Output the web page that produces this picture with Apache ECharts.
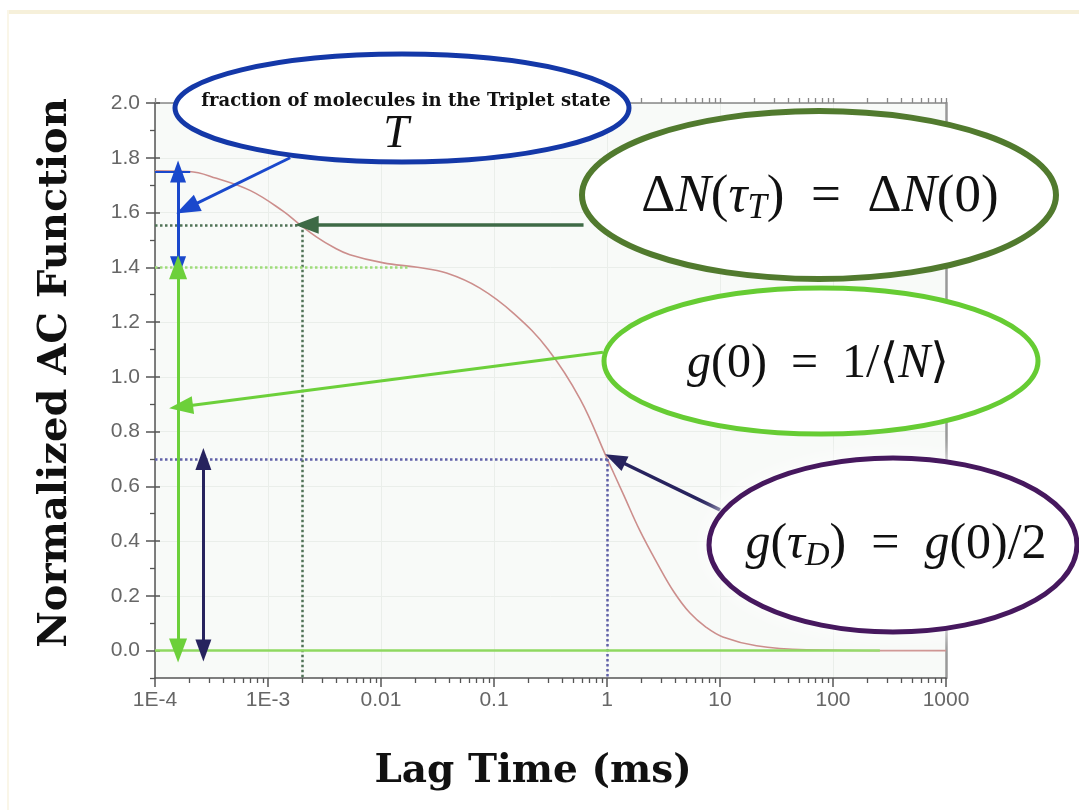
<!DOCTYPE html>
<html>
<head>
<meta charset="utf-8">
<script src="https://cdn.jsdelivr.net/npm/echarts@6/dist/echarts.min.js"></script>
<style>
html,body{margin:0;padding:0;background:#ffffff;}
#chart{width:1079px;height:810px;}
</style>
</head>
<body>
<div id="chart"></div>
<script>
// ---- data ----
const tau = [1e-4, 2e-4, 3.5e-4, 7e-4, 1.35e-3, 1.9e-3, 2.7e-3, 3.8e-3, 5.3e-3, 1.05e-2, 2.1e-2, 3.8e-2, 7.5e-2, 0.15, 0.3, 0.58, 1.0, 1.4, 1.95, 2.8, 3.9, 5.4, 7.5, 10.6, 21, 58, 260, 1000];
const gNorm = [1.752, 1.75, 1.725, 1.68, 1.606, 1.557, 1.510, 1.473, 1.446, 1.416, 1.400, 1.379, 1.324, 1.231, 1.101, 0.918, 0.702, 0.570, 0.439, 0.317, 0.215, 0.138, 0.086, 0.050, 0.018, 0.003, 0, 0];
const xTickLabels = ['1E-4', '1E-3', '0.01', '0.1', '1', '10', '100', '1000'];
const yTickValues = [0.0, 0.2, 0.4, 0.6, 0.8, 1.0, 1.2, 1.4, 1.6, 1.8, 2.0];
const yMinorValues = [-0.1, 0.1, 0.3, 0.5, 0.7, 0.9, 1.1, 1.3, 1.5, 1.7, 1.9];
const xDecades = [1e-4, 1e-3, 1e-2, 1e-1, 1, 10, 100, 1000];
const xMinorValues = [];
for (let d = 0; d < xDecades.length - 1; d++) {
  for (let m = 2; m <= 9; m++) xMinorValues.push(+(xDecades[d] * m).toPrecision(6));
}
// annotated levels
const plateauTop = 1.75;      // g(0) incl. triplet
const plateauDiff = 1.40;     // g(0) = 1/<N>
const tauT = 2.0e-3, gTauT = 1.555;
const tauD = 1.0,   gTauD = 0.70;
const baseEnd = 260;          // end of green zero line

const chart = echarts.init(document.getElementById('chart'), null, {renderer: 'canvas'});

const serifM = "'Liberation Serif','DejaVu Serif',serif";
const tickFont = "'Liberation Sans','Arial',sans-serif";

function pairs(xs, ys){ return xs.map((x,i)=>[x, ys[i]]); }

function seg(a, b, color, width, type, s0, s1, size0, size1){
  return [
    {coord: a, symbol: s0 || 'none', symbolSize: size0 || 10, lineStyle: {color, width, type: type || 'solid'}},
    {coord: b, symbol: s1 || 'none', symbolSize: size1 || 10, lineStyle: {color, width, type: type || 'solid'}}
  ];
}

const cBlue = '#1a48cc', cLG = '#6cd03a', cDG = '#3e6a46', cNavy = '#27235e';
const cLGdot = '#9edc7a', cDGdot = '#4f7256', cNavyDot = '#6060a8';

const guideLines = [
  seg([1e-4, plateauTop], [2.05e-4, plateauTop], cBlue, 2),
  seg([1e-4, gTauT], [tauT, gTauT], cDGdot, 2.5, 'dotted'),
  seg([tauT, gTauT], [tauT, -0.1], cDGdot, 2.5, 'dotted'),
  seg([1e-4, plateauDiff], [0.018, plateauDiff], cLGdot, 2.5, 'dotted'),
  seg([1e-4, gTauD], [tauD, gTauD], cNavyDot, 2.5, 'dotted'),
  seg([tauD, gTauD], [tauD, -0.1], cNavyDot, 2.5, 'dotted'),
  seg([1e-4, 0], [baseEnd, 0], '#8fd860', 2.5)
];

const arrows = [
  seg([1.6e-4, plateauTop], [1.6e-4, plateauDiff], cBlue, 3, 'solid', 'triangle', 'triangle', [16, 22], [16, 22]),
  seg([1.57e-3, 1.80], [1.92e-4, 1.616], cBlue, 3, 'solid', 'none', 'triangle', 10, [18, 24]),
  seg([1.6e-4, plateauDiff], [1.6e-4, 0], cLG, 3, 'solid', 'triangle', 'triangle', [18, 24], [18, 24]),
  seg([0.92, 1.09], [1.70e-4, 0.891], cLG, 3, 'solid', 'none', 'triangle', 10, [18, 24]),
  seg([0.62, gTauT], [2.2e-3, gTauT], cDG, 3.5, 'solid', 'none', 'triangle', 10, [18, 24]),
  seg([2.68e-4, gTauD], [2.68e-4, 0], cNavy, 3, 'solid', 'triangle', 'triangle', [16, 22], [16, 22]),
  seg([10, 0.514], [1.18, 0.70], cNavy, 3.5, 'solid', 'none', 'triangle', 10, [16, 22])
];

const option = {
  animation: false,
  backgroundColor: '#ffffff',
  grid: {left: 155, right: 133, top: 103, bottom: 132, show: true, backgroundColor: '#f8faf8', borderWidth: 0},
  xAxis: [
    {
      type: 'log', logBase: 10, min: 1e-4, max: 1000, position: 'bottom',
      axisLine: {show: true, onZero: false, lineStyle: {color: '#555', width: 1.5}},
      axisTick: {show: true, length: 9, lineStyle: {color: '#555', width: 1.5}},
      axisLabel: {
        fontSize: 21, color: '#666', fontFamily: tickFont, margin: 12,
        formatter: v => xTickLabels[Math.round(Math.log10(v)) + 4]
      },
      splitLine: {show: true, lineStyle: {color: '#eaeeea', width: 1}}
    },
    {
      type: 'log', logBase: 10, min: 1e-4, max: 1000, position: 'bottom',
      axisLine: {show: false, onZero: false}, axisLabel: {show: false}, splitLine: {show: false},
      axisTick: {show: true, inside: false, length: 5, customValues: xMinorValues, lineStyle: {color: '#555', width: 1.3}}
    },
    {
      type: 'log', logBase: 10, min: 1e-4, max: 1000, position: 'top',
      axisLine: {show: true, onZero: false, lineStyle: {color: '#888', width: 1.5}},
      axisLabel: {show: false}, splitLine: {show: false},
      axisTick: {show: true, inside: false, length: 5, customValues: xDecades.concat(xMinorValues), lineStyle: {color: '#888', width: 1.3}}
    }
  ],
  yAxis: [
    {
      type: 'value', min: -0.1, max: 2.0, position: 'left',
      axisLine: {show: true, onZero: false, lineStyle: {color: '#555', width: 1.5}},
      axisTick: {show: true, length: 9, customValues: yTickValues, lineStyle: {color: '#555', width: 1.5}},
      axisLabel: {customValues: yTickValues, fontSize: 21, color: '#666', fontFamily: tickFont, margin: 15, formatter: v => v.toFixed(1)},
      splitLine: {show: true, lineStyle: {color: '#eaeeea', width: 1}}
    },
    {
      type: 'value', min: -0.1, max: 2.0, position: 'left',
      axisLine: {show: false, onZero: false}, axisLabel: {show: false}, splitLine: {show: false},
      axisTick: {show: true, length: 5, customValues: yMinorValues, lineStyle: {color: '#555', width: 1.3}}
    },
    {
      type: 'value', min: -0.1, max: 2.0, position: 'left',
      axisLine: {show: false, onZero: false}, axisLabel: {show: false}, splitLine: {show: false},
      axisTick: {show: true, inside: true, length: 5, customValues: yTickValues, lineStyle: {color: '#555', width: 1.5}}
    },
    {
      type: 'value', min: -0.1, max: 2.0, position: 'right',
      axisLine: {show: true, onZero: false, lineStyle: {color: '#999', width: 2.5}},
      axisTick: {show: false}, axisLabel: {show: false}, splitLine: {show: false}
    }
  ],
  series: [
    {
      name: 'ACF', type: 'line', xAxisIndex: 0, yAxisIndex: 0,
      data: pairs(tau, gNorm), showSymbol: false, smooth: 0.4,
      lineStyle: {color: '#cc8e8c', width: 1.6}, z: 3, silent: true
    },
    {
      name: 'guides', type: 'line', xAxisIndex: 0, yAxisIndex: 0, data: [], z: 4, silent: true,
      markLine: {silent: true, animation: false, label: {show: false}, emphasis: {disabled: true}, symbol: 'none', data: guideLines}
    },
    {
      name: 'arrows', type: 'line', xAxisIndex: 0, yAxisIndex: 0, data: [], z: 5, silent: true,
      markLine: {silent: true, animation: false, label: {show: false}, emphasis: {disabled: true}, data: arrows}
    }
  ],
  graphic: [
    {type: 'rect', shape: {x: 8, y: 10, width: 1071, height: 4}, style: {fill: '#f6f0da'}, z: 1, silent: true},
    {type: 'rect', shape: {x: 7, y: 10, width: 2, height: 800}, style: {fill: '#faf6e8'}, z: 1, silent: true},
    {type: 'text', x: 56, y: 373, rotation: Math.PI / 2, z: 50, silent: true,
      style: {text: 'Normalized AC Function', font: "bold 40px 'DejaVu Serif', serif", fill: '#111', align: 'center', verticalAlign: 'middle'}},
    {type: 'text', x: 533, y: 772, z: 50, silent: true,
      style: {text: 'Lag Time (ms)', font: "bold 39px 'DejaVu Serif', serif", fill: '#111', align: 'center', verticalAlign: 'middle'}},
    // blue ellipse
    {type: 'ellipse', shape: {cx: 402, cy: 108, rx: 227, ry: 54}, z: 60, silent: true,
      style: {fill: '#ffffff', stroke: '#1438a8', lineWidth: 5}},
    {type: 'text', x: 406, y: 101, z: 61, silent: true,
      style: {text: 'fraction of molecules in the Triplet state', font: "bold 18px 'DejaVu Serif', serif", fill: '#111', align: 'center', verticalAlign: 'middle'}},
    {type: 'text', x: 396, y: 135, z: 61, silent: true,
      style: {text: 'T', font: "italic 46px 'Liberation Serif', serif", fill: '#111', align: 'center', verticalAlign: 'middle'}},
    // dark green ellipse
    {type: 'ellipse', shape: {cx: 819, cy: 195, rx: 237, ry: 84}, z: 60, silent: true,
      style: {fill: '#ffffff', stroke: '#517a2e', lineWidth: 6}},
    {type: 'text', x: 820, y: 197, z: 61, silent: true,
      style: {
        text: '{rm|Δ}{it|N}{rm|(}{it|τ}{sub|T}{rm|)  =  Δ}{it|N}{rm|(0)}',
        align: 'center', verticalAlign: 'middle',
        rich: {
          rm: {fontFamily: serifM, fontSize: 53, lineHeight: 58, fill: '#111'},
          it: {fontFamily: serifM, fontStyle: 'italic', fontSize: 53, lineHeight: 58, fill: '#111'},
          sub: {fontFamily: serifM, fontStyle: 'italic', fontSize: 35, lineHeight: 32, verticalAlign: 'bottom', fill: '#111'}
        }
      }},
    // light green ellipse
    {type: 'ellipse', shape: {cx: 821, cy: 361, rx: 217, ry: 73}, z: 60, silent: true,
      style: {fill: '#ffffff', stroke: '#66cc33', lineWidth: 5}},
    {type: 'text', x: 818, y: 364, z: 61, silent: true,
      style: {
        text: '{it|g}{rm|(0)  =  1/⟨}{it|N}{rm|⟩}',
        align: 'center', verticalAlign: 'middle',
        rich: {
          rm: {fontFamily: serifM, fontSize: 48, lineHeight: 54, fill: '#111'},
          it: {fontFamily: serifM, fontStyle: 'italic', fontSize: 48, lineHeight: 54, fill: '#111'}
        }
      }},
    // purple ellipse
    {type: 'ellipse', shape: {cx: 893, cy: 545, rx: 184, ry: 87}, z: 60, silent: true,
      style: {fill: '#ffffff', stroke: '#46185e', lineWidth: 5, shadowBlur: 25, shadowColor: 'rgba(255,255,255,1)'}},
    {type: 'text', x: 896, y: 545, z: 61, silent: true,
      style: {
        text: '{it|g}{rm|(}{it|τ}{sub|D}{rm|)  =  }{it|g}{rm|(0)/2}',
        align: 'center', verticalAlign: 'middle',
        rich: {
          rm: {fontFamily: serifM, fontSize: 50, lineHeight: 56, fill: '#111'},
          it: {fontFamily: serifM, fontStyle: 'italic', fontSize: 50, lineHeight: 56, fill: '#111'},
          sub: {fontFamily: serifM, fontStyle: 'italic', fontSize: 34, lineHeight: 32, verticalAlign: 'bottom', fill: '#111'}
        }
      }}
  ]
};

chart.setOption(option);
</script>
</body>
</html>
